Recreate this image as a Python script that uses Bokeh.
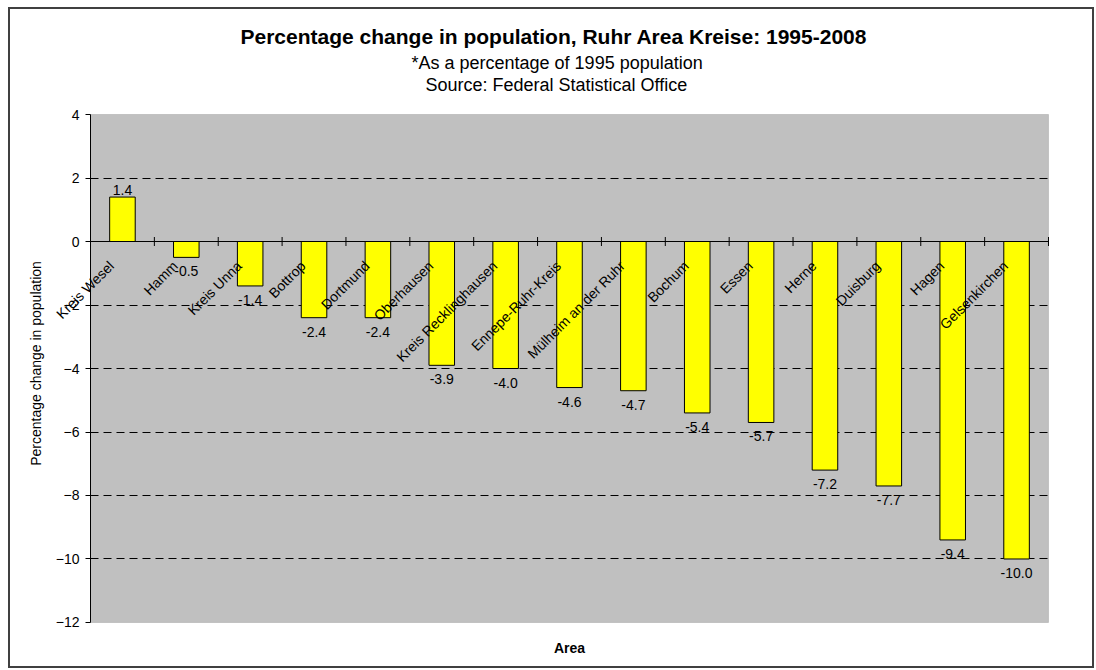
import math
from bokeh.plotting import figure
from bokeh.models import (ColumnDataSource, FactorRange, Range1d, FixedTicker,
                          CategoricalAxis, LinearAxis, BoxAnnotation, Grid, Title)
from bokeh.transform import dodge
from bokeh.core.properties import value
from bokeh.embed import file_html
from bokeh.resources import INLINE

areas = ["Kreis Wesel", "Hamm", "Kreis Unna", "Bottrop", "Dortmund", "Oberhausen",
         "Kreis Recklinghausen", "Ennepe-Ruhr-Kreis", "Mülheim an der Ruhr", "Bochum",
         "Essen", "Herne", "Duisburg", "Hagen", "Gelsenkirchen"]
changes = [1.4, -0.5, -1.4, -2.4, -2.4, -3.9, -4.0, -4.6, -4.7, -5.4, -5.7, -7.2, -7.7, -9.4, -10.0]
y_ticks = [-12, -10, -8, -6, -4, -2, 0, 2, 4]

title_text = "Percentage change in population, Ruhr Area Kreise: 1995-2008"
subtitle1 = "*As a percentage of 1995 population"
subtitle2 = "Source: Federal Statistical Office"
y_label = "Percentage change in population"
x_label = "Area"

FONT = "Liberation Sans"

src = ColumnDataSource(dict(area=areas, change=changes,
                            lbl=[f"{v:.1f}" for v in changes]))
pos_src = ColumnDataSource(dict(area=[a for a, v in zip(areas, changes) if v >= 0],
                                change=[v for v in changes if v >= 0],
                                lbl=[f"{v:.1f}" for v in changes if v >= 0]))
neg_src = ColumnDataSource(dict(area=[a for a, v in zip(areas, changes) if v < 0],
                                change=[v for v in changes if v < 0],
                                lbl=[f"{v:.1f}" for v in changes if v < 0]))

# white margins inside the frame so slanted names and end tick labels are not cut off
x_range = FactorRange(*areas, range_padding=0.7046, range_padding_units="absolute")
y_range = Range1d(y_ticks[0] - 0.315, y_ticks[-1] + 0.63)

p = figure(x_range=x_range, y_range=y_range,
           width=1086, height=661, output_backend="svg", toolbar_location=None,
           min_border_left=35, min_border_right=3, min_border_top=85, min_border_bottom=38,
           background_fill_color="white", border_fill_color="white",
           outline_line_color=None)
p.title = None
p.styles = {"border": "2px solid #404040", "margin-left": "8px", "margin-top": "7px"}

# grey plot area
p.add_layout(BoxAnnotation(left=0, right=len(areas), bottom=y_ticks[0], top=y_ticks[-1],
                           fill_color="#C0C0C0", fill_alpha=1,
                           line_color="#808080", line_width=1, level="image"))

# left axis: only the title
yl = p.left[0]
yl.ticker = FixedTicker(ticks=[])
yl.axis_line_color = None
yl.major_tick_line_color = None
yl.minor_tick_line_color = None
yl.major_tick_out = 0
yl.major_label_standoff = 0
yl.axis_label = y_label
yl.axis_label_text_font = FONT
yl.axis_label_text_font_style = "normal"
yl.axis_label_text_font_size = "14px"
yl.axis_label_text_color = "black"
yl.axis_label_standoff = 2

# value axis at the left edge of the grey area
ya = LinearAxis(fixed_location=0, ticker=FixedTicker(ticks=y_ticks),
                bounds=(y_ticks[0], y_ticks[-1]))
ya.major_tick_out = 5
ya.major_tick_in = 0
ya.minor_tick_line_color = None
ya.major_label_standoff = 6
ya.major_label_text_font = FONT
ya.major_label_text_font_size = "14px"
ya.major_label_text_color = "black"
ya.axis_line_color = "black"
ya.major_tick_line_color = "black"
p.add_layout(ya, "left")

# bottom axis: only the title "Area"
xb = p.below[0]
xb.ticker = FixedTicker(ticks=[])
xb.major_tick_line_color = None
xb.minor_tick_line_color = None
xb.major_tick_out = 0
xb.axis_line_color = None
xb.major_label_standoff = 0
xb.axis_label = x_label
xb.axis_label_text_font = FONT
xb.axis_label_text_font_style = "bold"
xb.axis_label_text_font_size = "14px"
xb.axis_label_text_color = "black"
xb.axis_label_standoff = 7

# category axis line crossing at zero
cat_axis = CategoricalAxis(fixed_location=0, ticker=FixedTicker(ticks=[]),
                           bounds=(0, len(areas)))
cat_axis.axis_line_color = "black"
cat_axis.major_tick_line_color = None
cat_axis.major_tick_out = 0
cat_axis.minor_tick_line_color = None
p.add_layout(cat_axis, "below")

# grid (inner ticks only; the grey area's border marks the ends)
p.xgrid.grid_line_color = None
p.ygrid.ticker = FixedTicker(ticks=y_ticks[1:-1])
p.ygrid.grid_line_color = "black"
p.ygrid.grid_line_dash = "8 5"
p.ygrid.grid_line_width = 1
if "cross_bounds" in Grid.properties():
    p.ygrid.cross_bounds = (0, len(areas))

p.vbar(x="area", top="change", bottom=0, width=0.4, source=src,
       fill_color="#FFFF00", line_color="black", line_width=1)

# category boundary tick marks on the zero line
p.scatter(x=dodge("area", 0.5, range=p.x_range), y=0, source=src, marker="dash",
          angle=math.pi / 2, size=9, line_color="black", line_width=1)

# slanted category names under the zero line
p.text(x="area", y=0, text="area", source=src, angle=math.pi / 4,
       text_align="right", text_baseline="middle", x_offset=-11, y_offset=22,
       text_font=value(FONT), text_font_size="14px", text_color="black")

# data labels
p.text(x="area", y="change", text="lbl", source=pos_src, text_align="center",
       text_baseline="alphabetic", y_offset=-7,
       text_font=value(FONT), text_font_size="14px", text_color="black")
p.text(x="area", y="change", text="lbl", source=neg_src, text_align="center",
       text_baseline="top", y_offset=9,
       text_font=value(FONT), text_font_size="14px", text_color="black")

# titles (first added sits closest to the plot); centred on the whole chart area
p.add_layout(Title(text=subtitle2, align="left", offset=380, standoff=0,
                   text_font=FONT, text_font_size="18px", text_font_style="normal",
                   text_color="black"), "above")
p.add_layout(Title(text=subtitle1, align="left", offset=366, standoff=0,
                   text_font=FONT, text_font_size="18px", text_font_style="normal",
                   text_color="black"), "above")
p.add_layout(Title(text=title_text, align="left", offset=195, standoff=6,
                   text_font=FONT, text_font_size="21px", text_font_style="bold",
                   text_color="black"), "above")

open("out.html", "w").write(file_html(p, INLINE))
